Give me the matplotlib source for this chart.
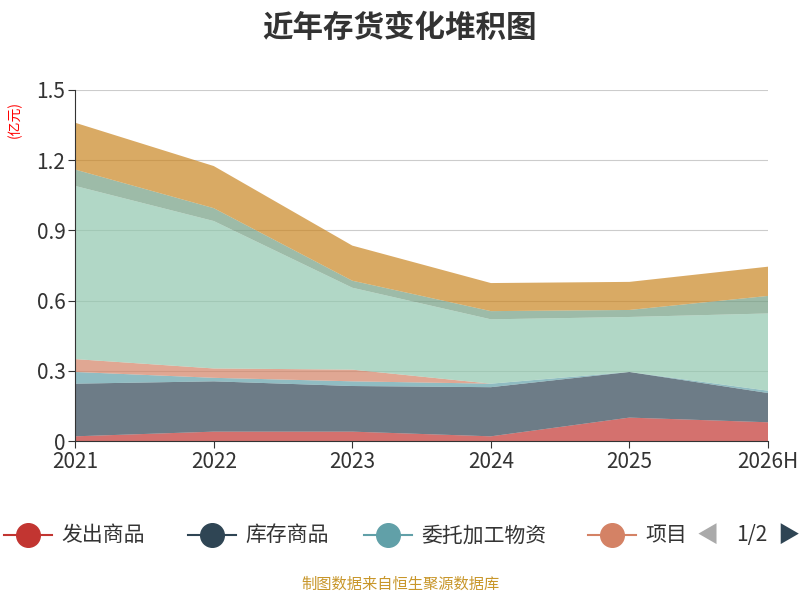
import matplotlib.pyplot as plt
import numpy as np
from matplotlib.lines import Line2D

plt.rcParams['font.family'] = ['Noto Sans CJK SC', 'DejaVu Sans']

years = ['2021', '2022', '2023', '2024', '2025', '2026H']
fachu = [0.02, 0.04, 0.04, 0.02, 0.10, 0.08]
kucun = [0.225, 0.215, 0.195, 0.21, 0.195, 0.125]
weituo = [0.05, 0.015, 0.02, 0.015, 0.0, 0.01]
xiangmu = [0.055, 0.04, 0.05, 0.0, 0.0, 0.0]
s5 = [0.74, 0.63, 0.35, 0.275, 0.235, 0.33]
s6 = [0.07, 0.055, 0.03, 0.035, 0.03, 0.075]
s7 = [0.2, 0.18, 0.15, 0.12, 0.12, 0.125]

colors = ['#c23531', '#2f4554', '#61a0a8', '#d48265', '#91c7ae', '#749f83', '#ca8622']

fig = plt.figure(figsize=(8, 6), dpi=100)
ax = fig.add_axes([0.094, 0.265, 0.866, 0.585])
x = np.arange(len(years))
ax.stackplot(x, fachu, kucun, weituo, xiangmu, s5, s6, s7, colors=colors, alpha=0.7)
ax.set_xlim(0, 5)
ax.set_ylim(0, 1.5)
ax.set_xticks(x)
ax.set_xticklabels(years, fontsize=15, color='#333')
ax.set_yticks([0, 0.3, 0.6, 0.9, 1.2, 1.5])
ax.set_yticklabels(['0', '0.3', '0.6', '0.9', '1.2', '1.5'], fontsize=15, color='#333')
ax.grid(axis='y', color='#ccc')
ax.set_axisbelow(True)
for s in ['top', 'right']:
    ax.spines[s].set_visible(False)
ax.spines['left'].set_color('#333')
ax.spines['bottom'].set_color('#333')
ax.tick_params(length=5, color='#333', pad=2)
fig.text(0.018, 0.80, '(亿元)', color='red', fontsize=10, rotation=90, ha='center', va='center')

fig.text(0.5, 0.953, '近年存货变化堆积图', fontsize=22, fontweight='bold', ha='center', va='center', color='#333')

names = ['发出商品', '库存商品', '委托加工物资', '项目']
xs = [0.035, 0.265, 0.485, 0.765]
for xi, n, c in zip(xs, names, colors):
    fig.add_artist(Line2D([xi - 0.03, xi + 0.03], [0.108, 0.108], color=c, lw=1.5))
    fig.add_artist(Line2D([xi], [0.108], marker='o', markersize=17, color=c))
    fig.text(xi + 0.042, 0.108, n, fontsize=15, va='center', color='#333')
fig.text(0.885, 0.108, '◀', fontsize=16, va='center', ha='center', color='#aaa')
fig.text(0.94, 0.108, '1/2', fontsize=15, va='center', ha='center', color='#333')
fig.text(0.985, 0.108, '▶', fontsize=16, va='center', ha='center', color='#2f4554')

fig.text(0.5, 0.018, '制图数据来自恒生聚源数据库', fontsize=11, ha='center', color='#c8962a')
fig.savefig('out.png')
